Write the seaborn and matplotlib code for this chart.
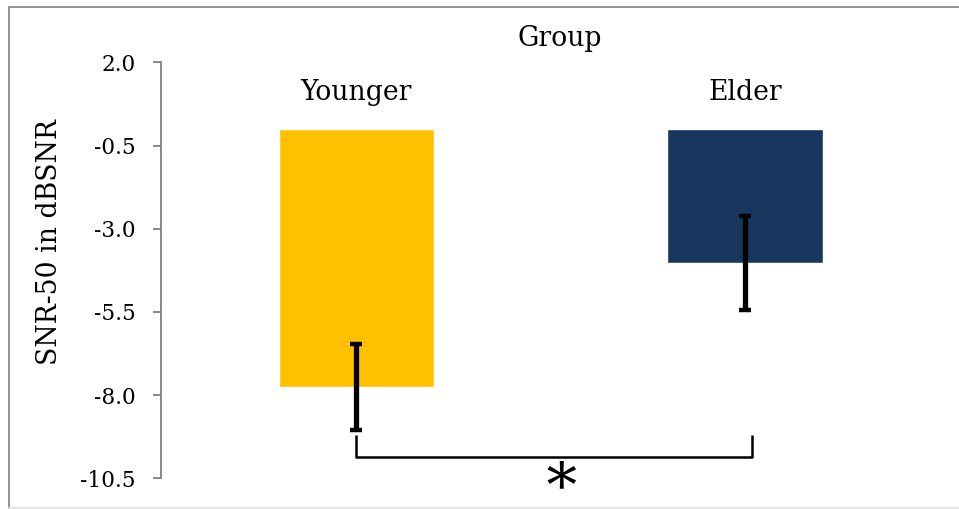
import matplotlib
matplotlib.use("Agg")
import matplotlib.pyplot as plt
from matplotlib.lines import Line2D
import seaborn as sns
import pandas as pd

# SNR-50 thresholds per listener group (mean and error)
groups = ["Younger", "Elder"]
means = [-7.75, -4.04]
errors = [1.30, 1.41]
bar_colors = ["#FFC000", "#17375E"]
y_ticks = [2.0, -0.5, -3.0, -5.5, -8.0, -10.5]

sns.set_theme(style="white")
plt.rcParams["font.family"] = ["DejaVu Serif"]
plt.rcParams["mathtext.fontset"] = "dejavuserif"
plt.rcParams["axes.unicode_minus"] = False

W, H = 959, 509
fig = plt.figure(figsize=(W / 100, H / 100), dpi=100)
fig.patch.set_facecolor("white")

def px_x(x):
    return x / W

def px_y(y):
    return 1 - y / H

ax = fig.add_axes([px_x(160.5), px_y(478.3), (941 - 160.5) / W, (478.3 - 62.3) / H])
ax.set_facecolor("white")

df = pd.DataFrame({"Group": groups, "SNR": means})
sns.barplot(data=df, x="Group", y="SNR", hue="Group", palette=bar_colors,
            width=0.4, errorbar=None, legend=False, saturation=1, ax=ax)

ax.errorbar(range(len(groups)), means, yerr=errors, fmt="none", ecolor="black",
            elinewidth=3.8, capsize=4.5, capthick=3.2, zorder=5)

ax.set_xlim(-0.504, 1.504)
ax.set_ylim(-10.5, 2.0)
ax.set_yticks(y_ticks)
ax.set_yticklabels([f"{v:.1f}" for v in y_ticks])

# spines: only the left value axis is drawn
for side in ["top", "right", "bottom"]:
    ax.spines[side].set_visible(False)
ax.spines["left"].set_color("#898989")
ax.spines["left"].set_linewidth(1.4)
ax.tick_params(axis="y", left=True, length=5.8, width=1.4, color="#898989",
               labelsize=15.6, labelcolor="black", pad=12)

# category labels sit at the top, inside the plot area
ax.tick_params(axis="x", bottom=False, labelbottom=False, top=True, labeltop=True,
               length=0, labelsize=19.2, labelcolor="black", pad=-27.5)
for lbl in ax.get_xticklabels():
    lbl.set_verticalalignment("baseline")

ax.xaxis.set_label_position("top")
ax.set_xlabel("Group", fontsize=19.3, color="black", va="baseline")
ax.xaxis.set_label_coords(0.511, 1.039)

ax.set_ylabel("SNR-50 in dBSNR", fontsize=19.2, color="black", va="center", ha="center")
ax.yaxis.set_label_coords(-0.142, 0.568)

# significance bracket between the two groups
br_top, br_bot = -9.2, -9.87
ax.plot([0, 0, 1.018, 1.018], [br_top, br_bot, br_bot, br_top], color="black",
        lw=1.8, clip_on=False, solid_joinstyle="round", solid_capstyle="butt", zorder=4)
ax.text(0.52, -10.41, r"$\ast$", fontsize=44, ha="center", va="center",
        color="black", clip_on=False)

# outer chart frame
fig.add_artist(Line2D([px_x(9), 1], [px_y(7), px_y(7)], color="#8c8c8c", lw=1.3))
fig.add_artist(Line2D([px_x(9), px_x(9)], [px_y(7), 0], color="#8c8c8c", lw=1.3))
fig.add_artist(Line2D([px_x(9), 1], [px_y(507.5), px_y(507.5)], color="#e3e3e3", lw=1.3))

fig.savefig("out.png", dpi=100, facecolor="white")
